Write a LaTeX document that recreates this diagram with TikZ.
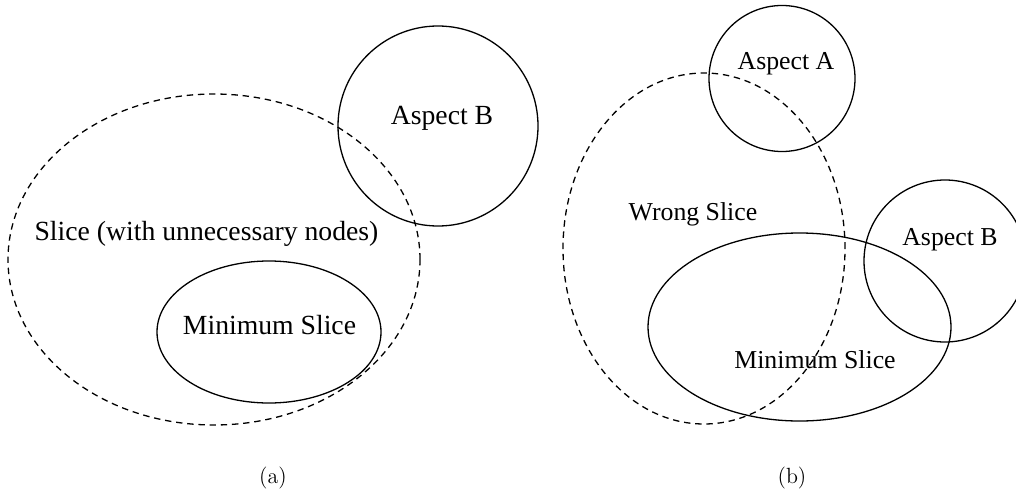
\documentclass[tikz,border=0pt]{standalone}
\usepackage{fontspec}
\newfontfamily\tms{Liberation Serif}
\begin{document}
\begin{tikzpicture}[x=0.5pt,y=-0.5pt,
  solidshape/.style={line width=0.65pt},
  dashedshape/.style={line width=0.65pt, dash pattern=on 3.2pt off 2.4pt},
  biglbl/.style={font=\tms\fontsize{13.85}{16}\selectfont, inner sep=0pt, anchor=base},
  smalllbl/.style={font=\tms\fontsize{12.9}{15}\selectfont, inner sep=0pt, anchor=base},
  sublabel/.style={font=\fontsize{11}{13}\selectfont, inner sep=0pt, anchor=base}]
\clip (0,0) rectangle (1016,492);
% panel (a)
\draw[dashedshape] (214,259.5) ellipse [x radius=103pt, y radius=82.75pt];
\draw[solidshape] (438,126) circle [radius=50pt];
\draw[solidshape] (269,332) ellipse [x radius=56pt, y radius=35.5pt];
\node[biglbl] (slice) at (206.5,240) {Slice (with unnecessary nodes)};
\node[biglbl] (aspBa) at (442,125) {Aspect B};
\node[biglbl] (mina) at (269.5,334) {Minimum Slice};
\node[sublabel] (a) at (273,483) {(a)};
% panel (b)
\draw[dashedshape] (704,248.5) ellipse [x radius=70.5pt, y radius=87.75pt];
\draw[solidshape] (782,78.5) circle [radius=36.5pt];
\draw[solidshape] (945,261) circle [radius=40.5pt];
\draw[solidshape] (799.5,327) ellipse [x radius=75.75pt, y radius=47pt];
\node[smalllbl] (wrong) at (693,220) {Wrong Slice};
\node[smalllbl] (aspA) at (786,69) {Aspect A};
\node[smalllbl] (aspBb) at (950,245) {Aspect B};
\node[smalllbl] (minb) at (815,368) {Minimum Slice};
\node[sublabel] (b) at (792,483) {(b)};
\end{tikzpicture}
\end{document}
